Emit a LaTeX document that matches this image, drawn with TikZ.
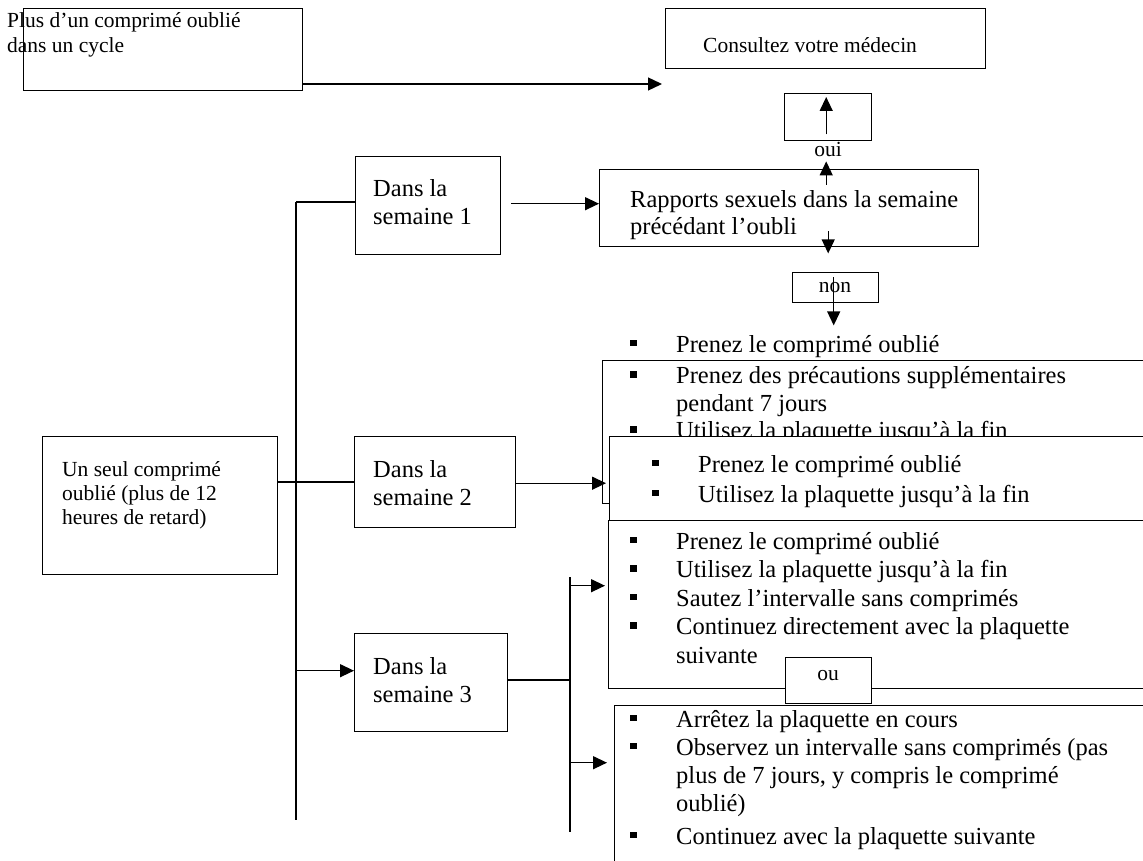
\documentclass[tikz,border=0pt]{standalone}
\usepackage{fontspec}
\setmainfont{Liberation Serif}
\usetikzlibrary{arrows.meta,calc}

\newcommand{\blt}{\makebox[46pt][l]{\raisebox{6pt}{\rule{6.5pt}{6.5pt}}}}
\newcommand{\gap}{\hspace*{46pt}}

\begin{document}
\begin{tikzpicture}[x=1pt, y=-1pt,
  frame/.style = {draw, line width=1.4pt, fill=white, inner sep=0pt,
    anchor=north west},
  big/.style = {inner sep=0pt, anchor=base west, align=left,
    font=\fontsize{24.5}{28}\selectfont},
  small/.style = {inner sep=0pt, anchor=base west, align=left,
    font=\fontsize{21.5}{25}\selectfont},
  link/.style = {line width=1.3pt, -{Triangle[length=14pt, width=13pt]}},
  bus/.style = {line width=2.4pt}]
  \useasboundingbox (0,0) rectangle (1143,861);
  \clip (0,0) rectangle (1143,861);

  \node[frame, minimum width=279, minimum height=82] (plus) at (23,8) {};
  \node[small] (plustxt) at (7,53) {Plus d’un comprimé oublié\\dans un cycle};
  \node[frame, minimum width=320, minimum height=60] (consult) at (665,8) {};
  \node[small] (consulttxt) at (703,53) {Consultez votre médecin};
  \node[frame, minimum width=87, minimum height=47] (oui) at (784,93) {};
  \node[small, anchor=base] (ouitxt) at (828,157) {oui};
  \node[frame, minimum width=379, minimum height=77] (rapports) at (599,169) {};
  \node[big] (rapptxt) at (630,235) {Rapports sexuels dans la semaine\\précédant l’oubli};
  \node[frame, minimum width=86, minimum height=30] (non) at (792,272) {};
  \node[small, anchor=base] (nontxt) at (835,292) {non};

  \node[frame, minimum width=235, minimum height=138] (seul) at (42,436) {};
  \node[small, font=\fontsize{21.5}{24}\selectfont] (seultxt) at (62,524)
    {Un seul comprimé\\oublié (plus de 12\\heures de retard)};
  \node[frame, minimum width=145, minimum height=98] (sem1) at (355,156) {};
  \node[big] (sem1txt) at (373,225) {Dans la\\semaine 1};
  \node[frame, minimum width=161, minimum height=91] (sem2) at (354,436) {};
  \node[big] (sem2txt) at (373,505) {Dans la\\semaine 2};
  \node[frame, minimum width=153, minimum height=98] (sem3) at (354,633) {};
  \node[big] (sem3txt) at (373,702) {Dans la\\semaine 3};

  \node[frame, minimum width=600, minimum height=143] (boxA) at (602,360) {};
  \node[big, font=\fontsize{24.5}{27.5}\selectfont] (listA) at (630,438.5)
    {\blt Prenez le comprimé oublié\\[4pt]
     \blt Prenez des précautions supplémentaires\\
     \gap pendant 7 jours\\
     \blt Utilisez la plaquette jusqu’à la fin};
  \node[frame, minimum width=600, minimum height=84] (boxB) at (609,436) {};
  \node[big, font=\fontsize{24.5}{30}\selectfont] (listB) at (652,502)
    {\blt Prenez le comprimé oublié\\
     \blt Utilisez la plaquette jusqu’à la fin};
  \node[frame, minimum width=600, minimum height=168] (boxC) at (608,520) {};
  \node[big, font=\fontsize{24.5}{28.5}\selectfont] (listC) at (630,663)
    {\blt Prenez le comprimé oublié\\
     \blt Utilisez la plaquette jusqu’à la fin\\
     \blt Sautez l’intervalle sans comprimés\\
     \blt Continuez directement avec la plaquette\\
     \gap suivante};
  \node[frame, minimum width=86, minimum height=46] (ou) at (785,657) {};
  \node[small, anchor=base] (outxt) at (828,680) {ou};
  \node[frame, minimum width=600, minimum height=200] (boxD) at (614,705) {};
  \node[big] (listD) at (630,844)
    {\blt Arrêtez la plaquette en cours\\
     \blt Observez un intervalle sans comprimés (pas\\
     \gap plus de 7 jours, y compris le comprimé\\
     \gap oublié)\\[5pt]
     \blt Continuez avec la plaquette suivante};

  \coordinate (plusend) at (662,84);
  \draw[link] (plus.east |- plusend) -- (plusend);
  \draw[link] ($(oui.south)+(-2,-7)$) -- ($(oui.north)+(-2,4)$);
  \draw[link] ($(oui.south |- rapports.north)+(-2,16)$) -- ($(oui.south)+(-2,20)$);
  \draw[link] ($(oui.south |- rapports.south)+(0,-16)$) -- ($(oui.south |- rapports.south)+(0,6)$);
  \draw[link] ($(non.north)+(-2,5)$) -- ($(non.south)+(-2,22)$);

  \coordinate (bustop) at (296,202);
  \coordinate (busbot) at (296,820);
  \draw[line width=1.6pt] (bustop) -- (busbot);
  \draw[bus] (bustop) -- (sem1.west |- bustop);
  \draw[link] ($(sem1.east)+(10,-2)$) -- ($(rapports.west |- sem1.east)+(0,-2)$);
  \draw[bus] (sem2.west -| seul.east) -- (sem2.west);
  \draw[link] ($(sem2.east)+(0,1)$) -- ($(boxB.west |- sem2.east)+(-3,1)$);
  \coordinate (s3in) at ($(sem3.west)+(0,-12)$);
  \draw[link] (bustop |- s3in) -- (s3in);

  \coordinate (bus2top) at (570,577);
  \coordinate (bus2bot) at (570,832);
  \draw[bus] (bus2top) -- (bus2bot);
  \draw[bus] ($(sem3.east)+(0,-3)$) -- ($(bus2top |- sem3.east)+(0,-3)$);
  \coordinate (cin) at ($(boxC.west)+(-3,-19)$);
  \draw[link] (bus2top |- cin) -- (cin);
  \coordinate (din) at ($(boxD.west)+(-7,-43)$);
  \draw[link] (bus2top |- din) -- (din);
\end{tikzpicture}
\end{document}
